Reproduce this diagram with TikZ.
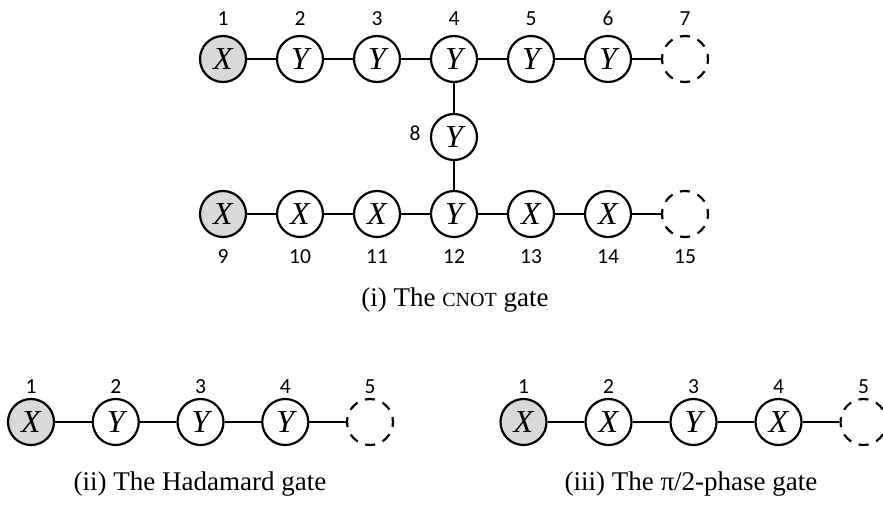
\documentclass[tikz,border=0pt]{standalone}
\usepackage{fontspec}
\setmainfont{Liberation Serif}
\newfontfamily\numfont{Carlito}
\begin{document}
\begin{tikzpicture}[x=1pt,y=-1pt,
  site/.style={circle, draw, line width=2.2pt, minimum size=46pt, inner sep=0pt,
    font=\fontsize{32}{32}\selectfont\itshape},
  seed/.style={site, fill=gray!30},
  open/.style={circle, draw, line width=2.2pt, minimum size=46pt, inner sep=0pt,
    dash pattern=on 10pt off 8.06pt, dash phase=5pt},
  bond/.style={line width=2pt},
  num/.style={font=\numfont\fontsize{21.5}{21.5}\selectfont, anchor=base, inner sep=0pt},
  caption/.style={font=\fontsize{27}{27}\selectfont, anchor=base, inner sep=0pt}]
\useasboundingbox (0,0) rectangle (883,504);

% (i) CNOT gate: upper chain
\node[seed] (t1) at (223,59) {X};
\node[site] (t2) at (300,59) {Y};
\node[site] (t3) at (377,59) {Y};
\node[site] (t4) at (454,59) {Y};
\node[site] (t5) at (531,59) {Y};
\node[site] (t6) at (608,59) {Y};
\node[open] (t7) at (685,59) {};
\foreach \i/\x in {1/223,2/300,3/377,4/454,5/531,6/608,7/685}
  \node[num] (lt\i) at (\x,25) {\i};

% middle site
\node[site] (m8) at (454,137) {Y};
\node[num] (l8) at (415,140) {8};

% lower chain
\node[seed] (b9) at (223,214) {X};
\node[site] (b10) at (300,214) {X};
\node[site] (b11) at (377,214) {X};
\node[site] (b12) at (454,214) {Y};
\node[site] (b13) at (531,214) {X};
\node[site] (b14) at (608,214) {X};
\node[open] (b15) at (685,214) {};
\foreach \i/\x in {9/223,10/300,11/377,12/454,13/531,14/608,15/685}
  \node[num] (lb\i) at (\x,263) {\i};

\draw[bond] (t1)--(t2) (t2)--(t3) (t3)--(t4) (t4)--(t5) (t5)--(t6) (t6)--(t7);
\draw[bond] (t4)--(m8) (m8)--(b12);
\draw[bond] (b9)--(b10) (b10)--(b11) (b11)--(b12) (b12)--(b13) (b13)--(b14) (b14)--(b15);
\node[caption] (capi) at (455,306) {(i) The {\fontsize{20}{20}\selectfont CNOT} gate};

% (ii) Hadamard gate
\node[seed] (h1) at (31,422) {X};
\node[site] (h2) at (115.75,422) {Y};
\node[site] (h3) at (200.5,422) {Y};
\node[site] (h4) at (285.25,422) {Y};
\node[open] (h5) at (370,422) {};
\foreach \i/\x in {1/31,2/115.75,3/200.5,4/285.25,5/370}
  \node[num] (lh\i) at (\x,393) {\i};
\draw[bond] (h1)--(h2) (h2)--(h3) (h3)--(h4) (h4)--(h5);
\node[caption] (capii) at (200,490) {(ii) The Hadamard gate};

% (iii) pi/2-phase gate
\node[seed] (p1) at (523.5,422) {X};
\node[site] (p2) at (608.5,422) {X};
\node[site] (p3) at (693.5,422) {Y};
\node[site] (p4) at (778.5,422) {X};
\node[open] (p5) at (863.5,422) {};
\foreach \i/\x in {1/523.5,2/608.5,3/693.5,4/778.5,5/863.5}
  \node[num] (lp\i) at (\x,393) {\i};
\draw[bond] (p1)--(p2) (p2)--(p3) (p3)--(p4) (p4)--(p5);
\node[caption] (capiii) at (691,490) {(iii) The π/2-phase gate};
\end{tikzpicture}
\end{document}
